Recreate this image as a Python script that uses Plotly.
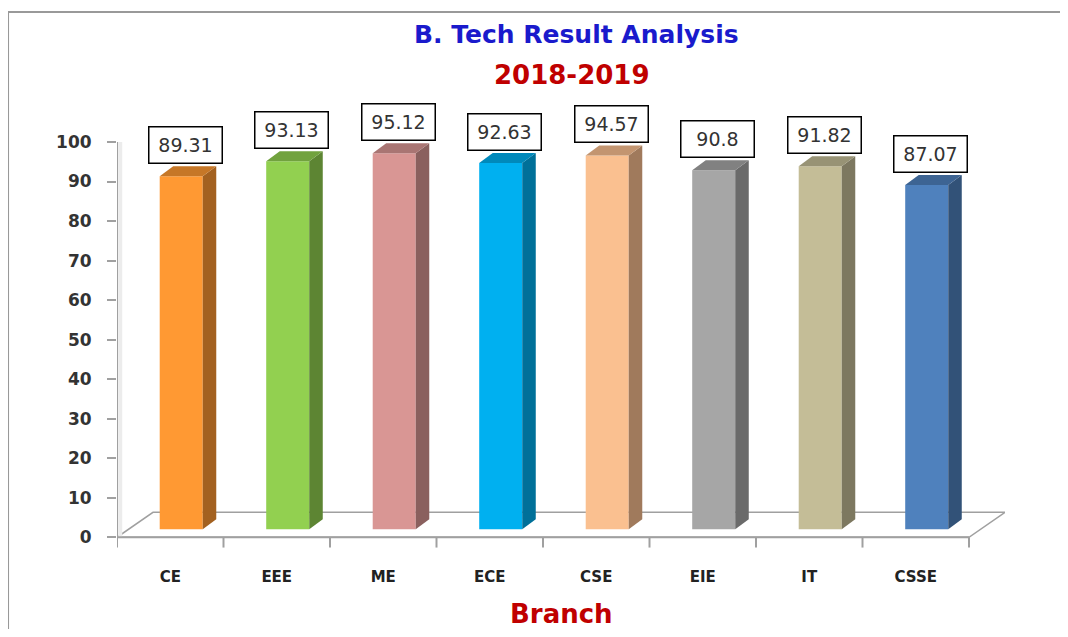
import numpy as np
import plotly.graph_objects as go

# data
branches = ["CE", "EEE", "ME", "ECE", "CSE", "EIE", "IT", "CSSE"]
pass_pct = [89.31, 93.13, 95.12, 92.63, 94.57, 90.8, 91.82, 87.07]
y_ticks = list(range(0, 101, 10))

# styling (front colours; sides/tops are shaded from them)
front_cols = ["#FF9933", "#92D050", "#D99694", "#00B0F0", "#FAC090", "#A6A6A6", "#C4BD97", "#4F81BD"]


def shade(hex_col, k):
    h = hex_col.lstrip("#")
    r, g, b = (int(h[i:i + 2], 16) for i in (0, 2, 4))
    return "rgb(%d,%d,%d)" % (r * k, g * k, b * k)


# fake 3d geometry (in axis units)
BAR_SHIFT = 0.103
BAR_W = 0.404
DX, DY = 0.127, 2.53
BASE = 2.03
FLOOR_DX, FLOOR_DY = 0.338, 6.33
AXIS_GREY = "#a0a0a0"
FONT = "DejaVu Sans"

x = np.arange(len(branches))
fig = go.Figure()

# front faces
fig.add_trace(go.Bar(
    x=x + BAR_SHIFT, y=pass_pct, base=BASE, width=BAR_W,
    marker=dict(color=front_cols, line=dict(width=0)),
    showlegend=False, hoverinfo="skip"))

# side + top faces
for i, v in enumerate(pass_pct):
    xl = i + BAR_SHIFT - BAR_W / 2
    xr = i + BAR_SHIFT + BAR_W / 2
    top = BASE + v
    fig.add_trace(go.Scatter(
        x=[xr, xr + DX, xr + DX, xr, xr], y=[BASE, BASE + DY, top + DY, top, BASE],
        fill="toself", mode="lines", line=dict(width=0),
        fillcolor=shade(front_cols[i], 0.64), showlegend=False, hoverinfo="skip"))
    fig.add_trace(go.Scatter(
        x=[xl, xr, xr + DX, xl + DX, xl], y=[top, top, top + DY, top + DY, top],
        fill="toself", mode="lines", line=dict(width=0),
        fillcolor=shade(front_cols[i], 0.78), showlegend=False, hoverinfo="skip"))

shapes = []
# floor
x0, x1 = -0.5, len(branches) - 0.5
shapes.append(dict(type="path", xref="x", yref="y", layer="below",
                   path=f"M{x0},0 L{x1},0 L{x1 + FLOOR_DX},{FLOOR_DY} L{x0 + FLOOR_DX},{FLOOR_DY} Z",
                   fillcolor="white", line=dict(color=AXIS_GREY, width=1.5)))
# axes
shapes.append(dict(type="line", xref="x", yref="y", x0=x0 + 0.03, x1=x0 + 0.03, y0=0, y1=100,
                   layer="below", line=dict(color="#ececec", width=4)))
shapes.append(dict(type="line", xref="x", yref="y", x0=x0, x1=x0, y0=0, y1=100,
                   line=dict(color=AXIS_GREY, width=2)))
shapes.append(dict(type="line", xref="x", yref="y", x0=x0, x1=x1, y0=0, y1=0,
                   line=dict(color=AXIS_GREY, width=2)))
for b in np.arange(x0, x1 + 0.01, 1.0):
    shapes.append(dict(type="line", xref="x", yref="y", x0=b, x1=b, y0=0, y1=-2.6,
                       line=dict(color=AXIS_GREY, width=2)))
# outer frame
shapes.append(dict(type="rect", xref="paper", yref="paper", x0=-0.1227, x1=1.1, y0=-0.25, y1=1.2174,
                   line=dict(color="#999999", width=2), fillcolor="rgba(0,0,0,0)"))

annotations = []
for i, v in enumerate(pass_pct):
    annotations.append(dict(
        x=i + 0.14, y=v + 10, xref="x", yref="y", text=f"{v}", showarrow=False,
        width=70, height=33, bgcolor="white", bordercolor="black", borderwidth=1.5, borderpad=1,
        font=dict(family=FONT, size=19, color="#333333")))

annotations += [
    dict(x=0.518, y=1.1665, xref="paper", yref="paper", yanchor="middle",
         text="<b>B. Tech Result Analysis</b>",
         showarrow=False, font=dict(family=FONT, size=25, color="#1a1acc")),
    dict(x=0.5124, y=1.0777, xref="paper", yref="paper", yanchor="middle", text="<b>2018-2019</b>",
         showarrow=False, font=dict(family=FONT, size=26, color="#c00000")),
    dict(x=0.501, y=-0.118, xref="paper", yref="paper", yanchor="middle", text="<b>Branch</b>",
         showarrow=False, font=dict(family=FONT, size=26, color="#c00000")),
]

# page body has an 8px margin, so the figure is 16px smaller than the window
fig.update_layout(
    width=1052, height=621,
    margin=dict(l=109, r=55, t=102, b=68),
    paper_bgcolor="white", plot_bgcolor="white",
    shapes=shapes, annotations=annotations,
    xaxis=dict(range=[x0, x1 + FLOOR_DX], tickvals=list(x), ticktext=branches,
               showgrid=False, zeroline=False, showline=False, ticks="",
               ticklabelstandoff=5,
               tickfont=dict(family=FONT, size=15, color="#222222", weight="bold")),
    yaxis=dict(range=[-6, 108.1], tickvals=y_ticks, showgrid=False, zeroline=False,
               showline=False, ticks="outside", ticklen=9, tickwidth=1.5, tickcolor=AXIS_GREY,
               ticklabelstandoff=12,
               tickfont=dict(family=FONT, size=17, color="#333333", weight="bold")),
)

fig.write_html("out.html")
